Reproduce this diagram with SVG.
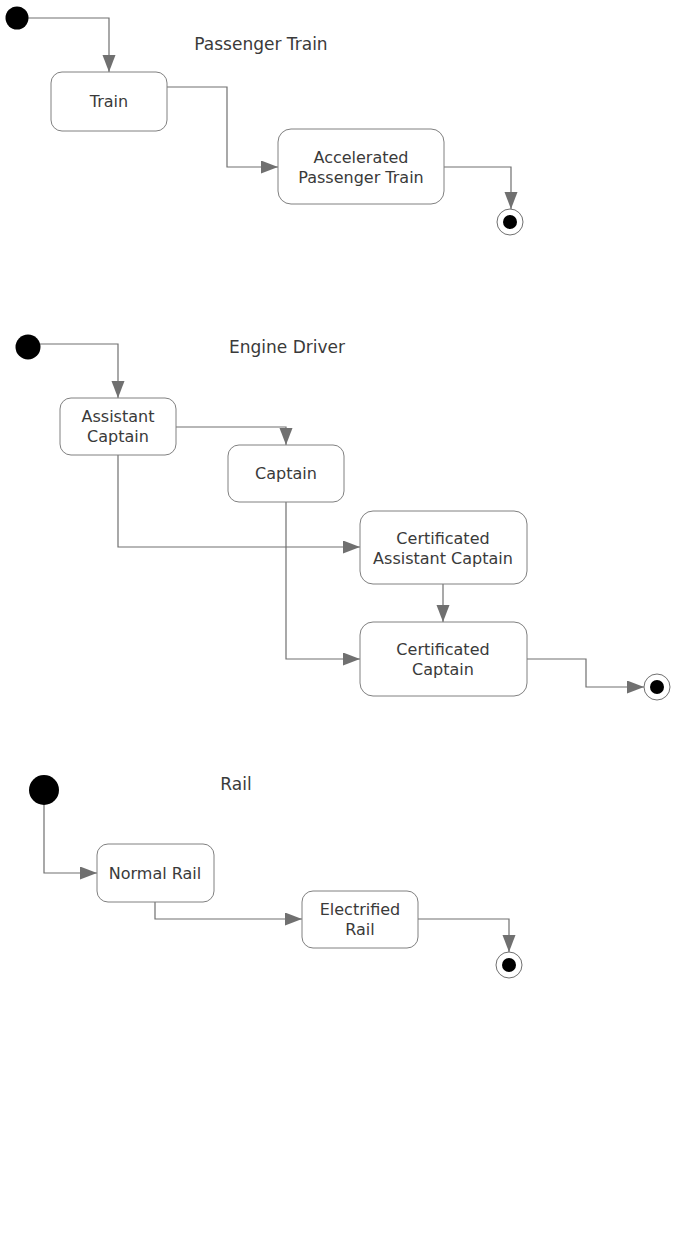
<svg xmlns="http://www.w3.org/2000/svg" width="678" height="1245" viewBox="0 0 678 1245">
<style>
.st{fill:#fff;stroke:#808080;stroke-width:1}
.t{font-family:"DejaVu Sans",Verdana,sans-serif;font-size:16px;fill:#3a3a3a;text-anchor:middle}
.h{font-size:17px}
.c{fill:none;stroke:#707070;stroke-width:1.2}
.ini{fill:#000}
.fo{fill:#fff;stroke:#707070;stroke-width:1}
.fi{fill:#000}
</style>
<defs>
<marker id="ah" markerUnits="userSpaceOnUse" markerWidth="20" markerHeight="14" refX="17" refY="6.5" orient="auto">
<path d="M0,0 L17,6.5 L0,13 Z" fill="#707070"/>
</marker>
</defs>
<rect width="678" height="1245" fill="#fff"/>
<text class="t h" x="261" y="50">Passenger Train</text>
<text class="t h" x="287" y="353">Engine Driver</text>
<text class="t h" x="236" y="790">Rail</text>
<g id="connectors">
<path class="c" d="M28,18 H109 V72" marker-end="url(#ah)"/>
<path class="c" d="M167,87 H227 V167 H278" marker-end="url(#ah)"/>
<path class="c" d="M444,167 H511 V209" marker-end="url(#ah)"/>
<path class="c" d="M40,344 H118 V398" marker-end="url(#ah)"/>
<path class="c" d="M176,427 H286 V445" marker-end="url(#ah)"/>
<path class="c" d="M118,455 V547 H360" marker-end="url(#ah)"/>
<path class="c" d="M443,584 V622" marker-end="url(#ah)"/>
<path class="c" d="M286,502 V659 H360" marker-end="url(#ah)"/>
<path class="c" d="M527,659 H586 V687 H644" marker-end="url(#ah)"/>
<path class="c" d="M44,805 V873 H97" marker-end="url(#ah)"/>
<path class="c" d="M155,902 V919 H302" marker-end="url(#ah)"/>
<path class="c" d="M418,919 H509 V952" marker-end="url(#ah)"/>
</g>
<g id="init1"><circle class="ini" cx="17" cy="18" r="11.5"/></g>
<g id="train"><rect class="st" x="51" y="72" width="116" height="59" rx="11"/><text class="t" x="109" y="107">Train</text></g>
<g id="accel"><rect class="st" x="278" y="129" width="166" height="75" rx="13"/><text class="t" x="361" y="163">Accelerated</text><text class="t" x="361" y="183">Passenger Train</text></g>
<g id="final1"><circle class="fo" cx="510" cy="222" r="13"/><circle class="fi" cx="510" cy="222" r="7"/></g>
<g id="init2"><circle class="ini" cx="28" cy="347" r="12.5"/></g>
<g id="asst"><rect class="st" x="60" y="398" width="116" height="57" rx="11"/><text class="t" x="118" y="422">Assistant</text><text class="t" x="118" y="442">Captain</text></g>
<g id="captain"><rect class="st" x="228" y="445" width="116" height="57" rx="11"/><text class="t" x="286" y="479">Captain</text></g>
<g id="certasst"><rect class="st" x="360" y="511" width="167" height="73" rx="13"/><text class="t" x="443" y="544">Certificated</text><text class="t" x="443" y="564">Assistant Captain</text></g>
<g id="certcap"><rect class="st" x="360" y="622" width="167" height="74" rx="13"/><text class="t" x="443" y="655">Certificated</text><text class="t" x="443" y="675">Captain</text></g>
<g id="final2"><circle class="fo" cx="657" cy="687" r="13"/><circle class="fi" cx="657" cy="687" r="7"/></g>
<g id="init3"><circle class="ini" cx="44" cy="790" r="15"/></g>
<g id="normal"><rect class="st" x="97" y="844" width="117" height="58" rx="11"/><text class="t" x="155" y="879">Normal Rail</text></g>
<g id="electrified"><rect class="st" x="302" y="891" width="116" height="57" rx="11"/><text class="t" x="360" y="915">Electrified</text><text class="t" x="360" y="935">Rail</text></g>
<g id="final3"><circle class="fo" cx="509" cy="965" r="13"/><circle class="fi" cx="509" cy="965" r="7"/></g>
</svg>
